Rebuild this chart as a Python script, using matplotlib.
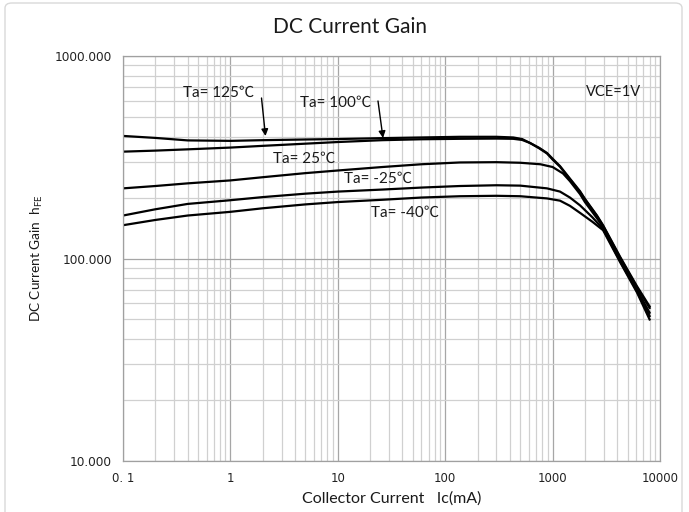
import matplotlib
matplotlib.use("Agg")
import matplotlib.pyplot as plt
from matplotlib.ticker import FixedLocator, NullFormatter, LogLocator
from matplotlib.patches import FancyBboxPatch

# ---- data (Ic in mA, hFE) ----
ic_125 = [0.1, 0.2, 0.4, 1, 2, 5, 10, 26, 60, 137, 300, 430, 520, 616, 750, 887, 1000, 1172, 1450, 1800, 2000, 2590, 2950, 4250, 6100, 8000]
hfe_125 = [403, 394, 383, 381, 384, 387, 389, 393, 396, 399, 399, 396, 389, 372, 350, 330, 308, 284, 246, 213, 196, 162, 145, 101, 72, 57]

ic_100 = [0.1, 0.2, 0.4, 1, 2, 5, 10, 26, 60, 137, 300, 430, 520, 616, 750, 887, 1000, 1172, 1450, 1800, 2000, 2590, 2950, 4250, 6100, 8000]
hfe_100 = [337, 341, 346, 353, 360, 369, 376, 384, 388, 390, 391, 390, 385, 372, 352, 332, 311, 286, 248, 215, 197, 163, 146, 102, 73, 58]

ic_25 = [0.1, 0.2, 0.4, 1, 2, 5, 10, 26, 60, 137, 300, 500, 770, 1000, 1250, 1450, 1800, 2000, 2590, 2950, 4250, 6100, 8000]
hfe_25 = [222, 228, 235, 243, 252, 264, 272, 283, 292, 298, 299, 297, 292, 283, 263, 241, 208, 190, 158, 143, 99, 70, 54]

ic_m25 = [0.1, 0.2, 0.4, 1, 2, 5, 10, 26, 60, 137, 300, 500, 887, 1172, 1450, 1800, 2340, 2950, 4250, 6100, 8000]
hfe_m25 = [163, 175, 186, 194, 201, 209, 214, 219, 224, 228, 230, 229, 222, 214, 200, 183, 160, 140, 97, 69, 52]

ic_m40 = [0.1, 0.2, 0.4, 1, 2, 5, 10, 26, 60, 137, 300, 500, 887, 1172, 1450, 1800, 2340, 2950, 4250, 6100, 8000]
hfe_m40 = [146, 155, 163, 170, 177, 185, 190, 195, 200, 203, 204, 203, 198, 193, 182, 168, 152, 138, 96, 68, 50]

x_ticks = [0.1, 1, 10, 100, 1000, 10000]
x_tick_labels = ["0. 1", "1", "10", "100", "1000", "10000"]
y_ticks = [10, 100, 1000]
y_tick_labels = ["10.000", "100.000", "1000.000"]

title = "DC Current Gain"
x_label = "Collector Current   Ic(mA)"
y_label = "DC Current Gain  h$_{\\mathregular{FE}}$"
curve_labels = ["Ta= 125℃", "Ta= 100℃", "Ta= 25℃", "Ta= -25℃", "Ta= -40℃"]
cond_label = "VCE=1V"

# ---- figure ----
W, H = 689, 512
fig = plt.figure(figsize=(W / 100, H / 100), dpi=100)
fig.patch.set_facecolor("white")


def fx(px):
    return px / W


def fy(py):
    return 1 - py / H


# outer chart-area border
border = FancyBboxPatch((fx(5), -0.05), (682 - 5) / W, 1.05 - 3 / H,
                        boxstyle="round,pad=0,rounding_size=0.01",
                        transform=fig.transFigure, fill=False,
                        edgecolor="#d9d9d9", linewidth=1.0)
fig.patches.append(border)

L, R, T, B = 123, 660, 56, 461
ax = fig.add_axes([fx(L), fy(B), (R - L) / W, (B - T) / H])
ax.set_xscale("log")
ax.set_yscale("log")
ax.set_xlim(0.1, 10000)
ax.set_ylim(10, 1000)

ax.xaxis.set_major_locator(FixedLocator(x_ticks))
ax.yaxis.set_major_locator(FixedLocator(y_ticks))
ax.set_xticklabels(x_tick_labels)
ax.set_yticklabels(y_tick_labels)
ax.xaxis.set_minor_locator(LogLocator(base=10, subs=range(2, 10), numticks=50))
ax.yaxis.set_minor_locator(LogLocator(base=10, subs=range(2, 10), numticks=50))
ax.xaxis.set_minor_formatter(NullFormatter())
ax.yaxis.set_minor_formatter(NullFormatter())

ax.grid(True, which="major", color="#a6a6a6", linewidth=0.9)
ax.grid(True, which="minor", color="#d0d0d0", linewidth=0.9)
ax.set_axisbelow(True)
for s in ax.spines.values():
    s.set_color("#a0a0a0")
    s.set_linewidth(0.9)

ax.tick_params(which="both", length=0)
ax.tick_params(axis="x", pad=8, labelsize=8.5, labelcolor="#222222")
ax.tick_params(axis="y", pad=8, labelsize=8.7, labelcolor="#222222")
for lab in ax.get_xticklabels() + ax.get_yticklabels():
    lab.set_family("DejaVu Sans")

lw = 1.6
for xs, ys in [(ic_125, hfe_125), (ic_100, hfe_100), (ic_25, hfe_25),
               (ic_m25, hfe_m25), (ic_m40, hfe_m40)]:
    ax.plot(xs, ys, color="black", linewidth=lw, solid_joinstyle="round")

fam = ["Lato", "Noto Sans CJK SC", "DejaVu Sans"]
tc = "#1a1a1a"
label_pos = [(219, 93), (336, 103), (304, 159), (378, 179), (405, 213)]
for txt, (px, py) in zip(curve_labels, label_pos):
    fig.text(fx(px), fy(py), txt, fontsize=11, family=fam, color=tc,
             ha="center", va="center")
fig.text(fx(614), fy(92), cond_label, fontsize=10.5, family=fam, color=tc,
         ha="center", va="center")

arrow = dict(arrowstyle="-|>", color="black", lw=1.0, mutation_scale=10,
             shrinkA=0, shrinkB=0)
ax.annotate("", xy=(fx(265.5), fy(136)), xytext=(fx(261.5), fy(98)),
            xycoords="figure fraction", textcoords="figure fraction", arrowprops=arrow)
ax.annotate("", xy=(fx(383), fy(138)), xytext=(fx(378), fy(101)),
            xycoords="figure fraction", textcoords="figure fraction", arrowprops=arrow)

fig.text(fx(350), fy(27), title, fontsize=15, family=["Lato", "DejaVu Sans"],
         color="#1a1a1a", ha="center", va="center")
fig.text(fx(392), fy(499), x_label, fontsize=11.5, family=["Lato", "DejaVu Sans"],
         color="#1a1a1a", ha="center", va="center")
fig.text(fx(37), fy(258), y_label, fontsize=9.8, family=["Lato", "DejaVu Sans"],
         color="#1a1a1a", ha="center", va="center", rotation=90)

fig.savefig("out.png", dpi=100)
